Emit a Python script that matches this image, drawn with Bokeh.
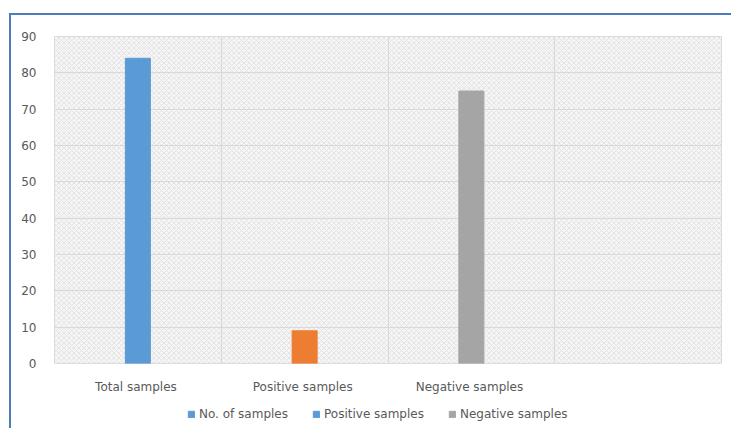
from bokeh.plotting import figure
from bokeh.layouts import column
from bokeh.models import (FixedTicker, BoxAnnotation, Legend, LegendItem, ColumnDataSource)
from bokeh.embed import file_html
from bokeh.resources import INLINE

categories = ["Total  samples", "Positive  samples", "Negative  samples", ""]
values = [84, 9, 75]
bar_colors = ["#5B9BD5", "#ED7D31", "#A5A5A5"]
legend_labels = ["No. of samples", "Positive samples", "Negative samples"]
legend_colors = ["#5B9BD5", "#5B9BD5", "#A5A5A5"]
y_ticks = [0, 10, 20, 30, 40, 50, 60, 70, 80, 90]

FONT = "DejaVu Sans"
TXT = "#595959"

xs = [i + 0.5 for i in range(len(values))]
src = ColumnDataSource(dict(x=xs, top=values, color=bar_colors))

p = figure(width=720, height=383, x_range=(0, 4), y_range=(0, 90),
           output_backend="svg", toolbar_location=None,
           min_border_left=43, min_border_right=10, min_border_top=21,
           min_border_bottom=35)

p.background_fill_color = "#f5f5f5"
p.border_fill_color = "white"
p.outline_line_color = "#d9d9d9"

bg = BoxAnnotation(left=0, right=4, bottom=0, top=90, fill_color="#f4f4f4",
                   line_color=None, hatch_pattern="diagonal_cross",
                   hatch_color="#e4e4e4", hatch_scale=5, hatch_weight=1, level="image")
p.add_layout(bg)

p.vbar(x="x", top="top", width=0.15, color="color", source=src)

# axes
p.yaxis.ticker = FixedTicker(ticks=y_ticks)
p.yaxis.axis_line_color = None
p.yaxis.major_tick_line_color = None
p.yaxis.minor_tick_line_color = None
p.yaxis.major_label_text_font = FONT
p.yaxis.major_label_text_font_size = "12px"
p.yaxis.major_label_text_color = TXT
p.yaxis.major_label_standoff = 12

p.xaxis.ticker = FixedTicker(ticks=[i + 0.5 for i in range(len(categories))])
p.xaxis.major_label_overrides = {i + 0.5: c for i, c in enumerate(categories)}
p.xaxis.axis_line_color = None
p.xaxis.major_tick_line_color = None
p.xaxis.minor_tick_line_color = None
p.xaxis.major_label_text_font = FONT
p.xaxis.major_label_text_font_size = "12px"
p.xaxis.major_label_text_color = TXT
p.xaxis.major_label_standoff = 10

p.xgrid.ticker = FixedTicker(ticks=list(range(len(categories) + 1)))
p.xgrid.grid_line_color = "#d9d9d9"
p.ygrid.grid_line_color = "#d9d9d9"

# legend in its own small figure below the chart
lf = figure(width=720, height=30, x_range=(0, 1), y_range=(0, 1),
            output_backend="svg", toolbar_location=None,
            min_border=0, min_border_left=0, min_border_right=0,
            min_border_top=0, min_border_bottom=0)
lf.axis.visible = False
lf.grid.visible = False
lf.outline_line_color = None
lf.background_fill_color = "white"
lf.border_fill_color = "white"

items = []
for lab, col in zip(legend_labels, legend_colors):
    r = lf.rect(x=[-5], y=[-5], width=0.01, height=0.01, color=col)
    items.append(LegendItem(label=lab, renderers=[r]))

legend = Legend(items=items, orientation="horizontal", location=(133, 7),
                glyph_width=8, glyph_height=8, label_text_font=FONT,
                label_text_font_size="12px", label_text_color=TXT,
                spacing=24, label_standoff=4, border_line_color=None,
                background_fill_alpha=0, padding=2, margin=0)
lf.add_layout(legend)

layout = column(p, lf, spacing=0)
layout.margin = (13, 0, 0, 9)
layout.styles = {"border-top": "2px solid #4A7EBB", "border-left": "2px solid #4A7EBB"}

open("out.html", "w").write(file_html(layout, INLINE))
